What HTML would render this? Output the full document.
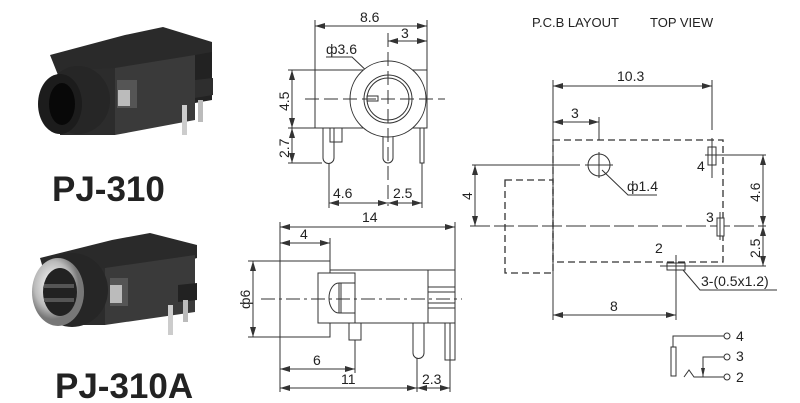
<!DOCTYPE html>
<html><head><meta charset="utf-8"><style>
body{margin:0;background:#fff;width:800px;height:403px;overflow:hidden}
svg{display:block}
text{font-family:"Liberation Sans",Arial,sans-serif;fill:#222}
</style></head><body>
<svg width="800" height="403" viewBox="0 0 800 403" xmlns="http://www.w3.org/2000/svg">
<defs>
<marker id="a" viewBox="0 0 10 6" refX="10" refY="3" markerWidth="10" markerHeight="6" orient="auto-start-reverse" markerUnits="userSpaceOnUse"><path d="M0,0 L10,3 L0,6z" fill="#333"/></marker>
<radialGradient id="silver" cx="0.4" cy="0.4"><stop offset="0" stop-color="#fff"/><stop offset="0.7" stop-color="#bbb"/><stop offset="1" stop-color="#777"/></radialGradient>
</defs>

<!-- Photo 1 -->
<g>
<polygon points="50,55 125,35 163,27 212,42 212,55 190,62 115,78 58,75" fill="#2a2a2a"/>
<polygon points="60,70 115,68 115,135 60,135" fill="#2c2c2c"/>
<polygon points="115,68 195,55 195,120 115,135" fill="#3a3a3a"/>
<polygon points="195,55 212,52 212,100 195,103" fill="#222"/>
<polygon points="195,80 213,78 213,95 195,98" fill="#2e2e2e"/>
<rect x="117" y="80" width="20" height="28" fill="#555"/>
<rect x="118" y="90" width="12" height="16" fill="#bbb"/>
<rect x="182" y="105" width="5" height="30" fill="#ccc"/>
<rect x="198" y="100" width="5" height="22" fill="#bbb"/>
<ellipse cx="78" cy="100" rx="32" ry="34" fill="#262626"/>
<ellipse cx="60" cy="104" rx="22" ry="30" fill="#1c1c1c"/>
<ellipse cx="62" cy="104" rx="13" ry="21" fill="#080808"/>
</g>
<text x="52" y="201" font-size="35" font-weight="bold" fill="#111">PJ-310</text>

<!-- Photo 2 -->
<g>
<polygon points="40,258 112,240 150,233 197,245 197,258 175,265 110,278 45,275" fill="#2a2a2a"/>
<polygon points="55,270 105,268 105,325 55,325" fill="#2c2c2c"/>
<polygon points="105,268 195,255 195,312 105,325" fill="#3a3a3a"/>
<polygon points="178,285 197,283 197,300 178,302" fill="#222"/>
<rect x="110" y="278" width="18" height="28" fill="#555"/>
<rect x="110" y="285" width="12" height="18" fill="#bbb"/>
<rect x="168" y="305" width="5" height="30" fill="#ccc"/>
<rect x="183" y="300" width="5" height="22" fill="#bbb"/>
<ellipse cx="72" cy="290" rx="36" ry="37" fill="#262626"/>
<ellipse cx="58" cy="292" rx="26" ry="34" fill="url(#silver)"/>
<ellipse cx="60" cy="292" rx="17" ry="24" fill="#222"/>
<rect x="44" y="284" width="30" height="4" fill="#555"/>
<rect x="44" y="298" width="30" height="4" fill="#555"/>
</g>
<text x="55" y="398" font-size="35" font-weight="bold" fill="#111">PJ-310A</text>

<g stroke="#333" stroke-width="1" fill="none">
<!-- Front view -->
<line x1="315" y1="20" x2="315" y2="70"/>
<line x1="427" y1="20" x2="427" y2="70"/>
<line x1="315" y1="26" x2="427" y2="26" marker-start="url(#a)" marker-end="url(#a)"/>
<line x1="388" y1="41" x2="427" y2="41" marker-start="url(#a)" marker-end="url(#a)"/>
<path d="M326,57 L352,57 L371,75"/>
<rect x="315" y="70" width="112" height="58" fill="#fff"/>
<circle cx="388" cy="99" r="38" fill="#fff"/>
<circle cx="388" cy="99" r="24"/>
<circle cx="388" cy="99" r="21"/>
<rect x="367" y="96" width="11" height="5"/>
<line x1="305" y1="99" x2="445" y2="99" stroke-dasharray="14,5"/>
<line x1="388" y1="33" x2="388" y2="206" stroke-dasharray="14,5"/>
<line x1="288" y1="70" x2="315" y2="70"/>
<line x1="288" y1="128" x2="315" y2="128"/>
<line x1="288" y1="163" x2="322" y2="163"/>
<line x1="292" y1="70" x2="292" y2="128" marker-start="url(#a)" marker-end="url(#a)"/>
<line x1="292" y1="128" x2="292" y2="163" marker-start="url(#a)" marker-end="url(#a)"/>
<path d="M323,128 V158 A5.5,5.5 0 0 0 334,158 V128"/>
<rect x="330" y="128" width="12" height="14"/>
<path d="M383,137 V158 A5,5 0 0 0 393,158 V137"/>
<rect x="420" y="128" width="4" height="35"/>
<line x1="329" y1="163" x2="329" y2="208"/>
<line x1="422" y1="163" x2="422" y2="208"/>
<line x1="329" y1="203" x2="388" y2="203" marker-start="url(#a)" marker-end="url(#a)"/>
<line x1="388" y1="203" x2="422" y2="203" marker-start="url(#a)" marker-end="url(#a)"/>

<!-- Side view -->
<line x1="280" y1="222" x2="280" y2="261"/>
<line x1="455" y1="222" x2="455" y2="270"/>
<line x1="330" y1="238" x2="330" y2="261"/>
<line x1="280" y1="227" x2="455" y2="227" marker-start="url(#a)" marker-end="url(#a)"/>
<line x1="280" y1="243" x2="330" y2="243" marker-start="url(#a)" marker-end="url(#a)"/>
<rect x="330" y="270" width="125" height="53"/>
<rect x="280" y="261" width="50" height="76" fill="#fff"/>
<rect x="318" y="273" width="37" height="50" fill="#fff"/>
<path d="M339,283 A10,15 0 0 0 339,313"/>
<line x1="339" y1="283" x2="355" y2="283"/>
<line x1="339" y1="313" x2="355" y2="313"/>
<line x1="339" y1="283" x2="339" y2="313"/>
<line x1="341" y1="283" x2="341" y2="313"/>
<line x1="428" y1="270" x2="428" y2="323"/>
<line x1="428" y1="287" x2="455" y2="287"/>
<line x1="428" y1="292" x2="455" y2="292"/>
<line x1="428" y1="303" x2="455" y2="303"/>
<line x1="428" y1="308" x2="455" y2="308"/>
<line x1="261" y1="299" x2="462" y2="299" stroke-dasharray="14,4,3,4"/>
<line x1="248" y1="261" x2="280" y2="261"/>
<line x1="248" y1="337" x2="280" y2="337"/>
<line x1="253" y1="261" x2="253" y2="337" marker-start="url(#a)" marker-end="url(#a)"/>
<rect x="349" y="323" width="12" height="17"/>
<path d="M413,323 V353 A5.5,5.5 0 0 0 424,353 V323"/>
<rect x="445" y="323" width="5" height="37"/>
<rect x="450" y="323" width="5" height="37"/>
<line x1="280" y1="337" x2="280" y2="392"/>
<line x1="355" y1="340" x2="355" y2="373"/>
<line x1="417" y1="358" x2="417" y2="392"/>
<line x1="450" y1="360" x2="450" y2="392"/>
<line x1="280" y1="369" x2="355" y2="369" marker-start="url(#a)" marker-end="url(#a)"/>
<line x1="280" y1="388" x2="417" y2="388" marker-start="url(#a)" marker-end="url(#a)"/>
<line x1="417" y1="388" x2="450" y2="388" marker-start="url(#a)" marker-end="url(#a)"/>

<!-- PCB layout -->
<line x1="553" y1="80" x2="553" y2="320"/>
<line x1="712" y1="80" x2="712" y2="130"/>
<line x1="553" y1="86" x2="712" y2="86" marker-start="url(#a)" marker-end="url(#a)"/>
<line x1="599" y1="117" x2="599" y2="140"/>
<line x1="553" y1="122" x2="599" y2="122" marker-start="url(#a)" marker-end="url(#a)"/>
<g stroke-dasharray="7,4" stroke-width="1.3">
<rect x="553" y="140" width="170" height="122"/>
<rect x="505" y="180" width="48" height="93"/>
</g>
<circle cx="599" cy="165" r="11"/>
<line x1="585" y1="165" x2="613" y2="165"/>
<line x1="599" y1="152" x2="599" y2="178"/>
<path d="M602,170 L628,195 L657,195"/>
<line x1="472" y1="165" x2="580" y2="165"/>
<line x1="470" y1="226" x2="766" y2="226" stroke-dasharray="20,4"/>
<line x1="475" y1="165" x2="475" y2="226" marker-start="url(#a)" marker-end="url(#a)"/>
<rect x="708" y="147" width="8" height="18" fill="#fff"/>
<line x1="712" y1="138" x2="712" y2="178"/>
<line x1="705" y1="155" x2="766" y2="155"/>
<rect x="717" y="218" width="7" height="18" fill="#fff"/>
<line x1="720" y1="212" x2="720" y2="240"/>
<rect x="667" y="263" width="18" height="7" fill="#fff"/>
<line x1="660" y1="266" x2="766" y2="266"/>
<line x1="676" y1="255" x2="676" y2="320"/>
<path d="M683,270 L700,290 L777,290"/>
<line x1="763" y1="155" x2="763" y2="226" marker-start="url(#a)" marker-end="url(#a)"/>
<line x1="763" y1="226" x2="763" y2="266" marker-start="url(#a)" marker-end="url(#a)"/>
<line x1="553" y1="315" x2="676" y2="315" marker-start="url(#a)" marker-end="url(#a)"/>

<!-- Schematic -->
<path d="M673,347 V336 H724"/>
<rect x="671" y="347" width="5" height="29" fill="#fff"/>
<circle cx="727" cy="336" r="3"/>
<path d="M724,357 H703 V377"/>
<circle cx="727" cy="357" r="3"/>
<path d="M684,377 L689,370 L694,377 H724"/>
<circle cx="727" cy="377" r="3"/>
</g>
<polygon points="701,368 705,368 703,377" fill="#333"/>

<g font-size="14">
<text x="360" y="22">8.6</text>
<text x="401" y="38">3</text>
<text x="326" y="54">ф3.6</text>
<text x="333" y="198">4.6</text>
<text x="393" y="198">2.5</text>
<text transform="translate(289,111) rotate(-90)">4.5</text>
<text transform="translate(289,158) rotate(-90)">2.7</text>
<text x="362" y="222">14</text>
<text x="300" y="239">4</text>
<text transform="translate(250,309) rotate(-90)">ф6</text>
<text x="313" y="365">6</text>
<text x="341" y="384">11</text>
<text x="422" y="384">2.3</text>
<text x="532" y="27" font-size="13">P.C.B LAYOUT</text>
<text x="650" y="27" font-size="13">TOP VIEW</text>
<text x="617" y="81">10.3</text>
<text x="571" y="118">3</text>
<text x="627" y="191">ф1.4</text>
<text x="697" y="171">4</text>
<text x="706" y="222">3</text>
<text x="655" y="253">2</text>
<text x="701" y="286">3-(0.5x1.2)</text>
<text transform="translate(472,200) rotate(-90)">4</text>
<text transform="translate(760,202) rotate(-90)">4.6</text>
<text transform="translate(760,258) rotate(-90)">2.5</text>
<text x="610" y="311">8</text>
<text x="736" y="341">4</text>
<text x="736" y="361">3</text>
<text x="736" y="382">2</text>
</g>
</svg>
</body></html>
